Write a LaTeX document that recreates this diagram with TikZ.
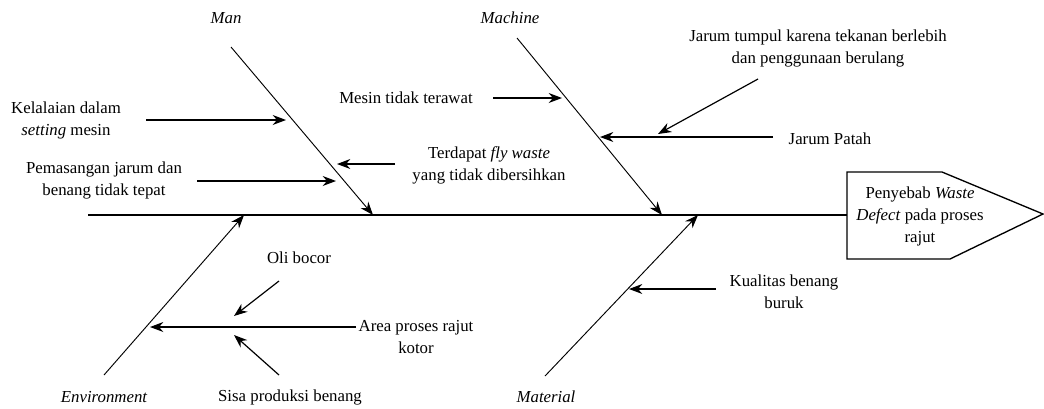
\documentclass[tikz,border=0pt]{standalone}
\usepackage{fontspec}
\setmainfont{Liberation Serif}
\usetikzlibrary{arrows.meta}

\tikzset{
  spine/.style={line width=1pt},
  bone/.style={line width=0.7pt, -{Stealth[length=10pt,width=7.5pt]}},
  cause/.style={line width=0.9pt, -{Stealth[length=10pt,width=7.5pt]}},
  lbl/.style={align=center, inner sep=0pt, font=\fontsize{12.6}{16.5}\selectfont},
  cat/.style={inner sep=0pt, font=\fontsize{12.6}{14}\selectfont\itshape},
}

\begin{document}
\begin{tikzpicture}[x=0.75pt, y=-0.75pt]
\useasboundingbox (0,0) rectangle (1044,408);

% Define points
\path (88,215) coordinate (tail)
(847,215) coordinate (hwest)
(847,172) coordinate (hnw) (942,172) coordinate (hne)
(1043,214) coordinate (htip)
(950,259) coordinate (hse) (847,259) coordinate (hsw)
(231,47) coordinate (man0) (373,215) coordinate (man1)
(517,38) coordinate (mac0) (662,215) coordinate (mac1)
(104,375) coordinate (env0) (244,215) coordinate (env1)
(545,376) coordinate (mat0) (698,215) coordinate (mat1)
;

% Head and spine
\draw[spine] (hnw) -- (hne) -- (htip) -- (hse) -- (hsw) -- cycle;
\node[lbl] (effect) at (920,216) {Penyebab \textit{Waste}\\\textit{Defect} pada proses\\rajut};
\draw[spine] (tail) -- (hwest);

% Categories
\node[cat] (man) at (226,18) {Man};
\node[cat] (machine) at (510,18) {Machine};
\node[cat] (environment) at (104,397) {Environment};
\node[cat] (material) at (546,397) {Material};

\draw[bone] (man0) -- (man1);
\draw[bone] (mac0) -- (mac1);
\draw[bone] (env0) -- (env1);
\draw[bone] (mat0) -- (mat1);

% Causes
\node[lbl] (kelalaian) at (66,120) {Kelalaian dalam\\\textit{setting} mesin};
\node[lbl] (pemasangan) at (104,180) {Pemasangan jarum dan\\benang tidak tepat};
\node[lbl] (flywaste) at (489,165) {Terdapat \textit{fly waste}\\yang tidak dibersihkan};
\node[lbl] (mesin) at (406,98) {Mesin tidak terawat};
\node[lbl] (tumpul) at (818,48) {Jarum tumpul karena tekanan berlebih\\dan penggunaan berulang};
\node[lbl] (patah) at (830,139) {Jarum Patah};
\node[lbl] (oli) at (299,258) {Oli bocor};
\node[lbl] (area) at (416,337) {Area proses rajut\\kotor};
\node[lbl] (sisa) at (290,397) {Sisa produksi benang};
\node[lbl] (kualitas) at (784,292) {Kualitas benang\\buruk};

\path (146,120) coordinate (k0) (286,120) coordinate (k1)
(197,181) coordinate (p0) (336,181) coordinate (p1)
(395,164) coordinate (f0) (337,164) coordinate (f1)
(493,98) coordinate (m0) (562,98) coordinate (m1)
(758,79) coordinate (t0) (658,134) coordinate (t1)
(773,137) coordinate (j0) (600,137) coordinate (j1)
(279,281) coordinate (o0) (234,316) coordinate (o1)
(356,327) coordinate (a0) (150,327) coordinate (a1)
(279,375) coordinate (s0) (234,335) coordinate (s1)
(716,289) coordinate (q0) (629,289) coordinate (q1)
;

\foreach \a/\b in {k0/k1, p0/p1, f0/f1, m0/m1, t0/t1, j0/j1, o0/o1, a0/a1, s0/s1, q0/q1}
  \draw[cause] (\a) -- (\b);

\end{tikzpicture}
\end{document}
